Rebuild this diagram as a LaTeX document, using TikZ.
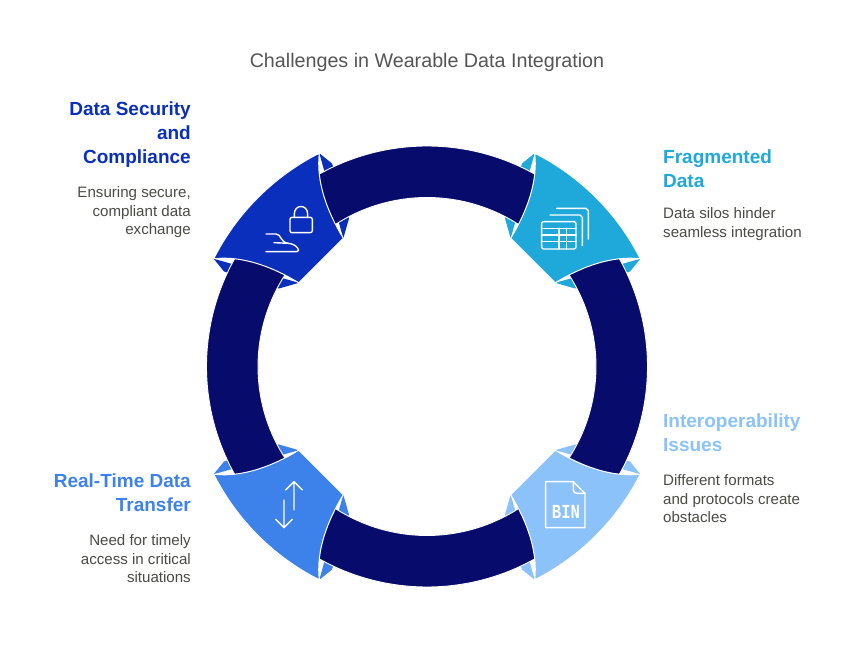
\documentclass[tikz,border=0pt]{standalone}
\usepackage{fontspec}
\setmainfont{Liberation Sans}
\newfontfamily\monoicon{Liberation Mono}
\definecolor{navy}{HTML}{070B6C}
\definecolor{secblue}{HTML}{0A2FBC}
\definecolor{fragblue}{HTML}{1FA9DA}
\definecolor{interblue}{HTML}{8BC2FA}
\definecolor{realblue}{HTML}{3D82EA}
\definecolor{titlegrey}{HTML}{555555}
\definecolor{bodygrey}{HTML}{4A4C44}
\tikzset{
  band/.style={fill=navy,draw=white,line width=0.9pt},
  wing/.style={draw=none},
  piece/.style={draw=white,line width=1pt,line join=round},
  icon/.style={draw=white,line width=1.4pt,line cap=round,line join=round},
  head/.style={font=\fontsize{19}{24}\selectfont\bfseries,inner sep=0pt},
  bodytext/.style={font=\fontsize{15.1}{18.5}\selectfont,text=bodygrey,inner sep=0pt},
}
\newcommand{\wingpair}[3]{%
  \begin{scope}[xscale=#1,yscale=#2]
    \fill[wing,fill=#3] (-107.7,213.3) -- (-95,203) -- (-78,148) -- (-83.7,128.2) -- cycle;
    \fill[wing,fill=#3] (-213.3,107.7) -- (-203,95) -- (-148,78) -- (-128.2,83.7) -- cycle;
  \end{scope}}
\newcommand{\cornerpiece}[3]{%
  \begin{scope}[xscale=#1,yscale=#2]
    \fill[piece,fill=#3] (-107.7,213.3) arc[start angle=116.8,end angle=153.2,radius=239pt]
      .. controls (-185,111) and (-155,100) .. (-128.2,83.7)
      -- (-83.7,128.2)
      .. controls (-100,155) and (-111,185) .. cycle;
  \end{scope}}
\newcommand{\ringband}[1]{%
  \fill[band] (#1+35:220.5pt) arc[start angle=#1+35,end angle=#1-35,radius=220.5pt]
    -- (#1-35:169pt) arc[start angle=#1-35,end angle=#1+35,radius=169pt] -- cycle;}
\begin{document}
\begin{tikzpicture}[x=1pt,y=1pt]
\useasboundingbox (-427,-296.5) rectangle (427,366.5);
\fill[white] (-427,-296.5) rectangle (427,366.5);
\wingpair{1}{1}{secblue}
\wingpair{-1}{1}{fragblue}
\wingpair{-1}{-1}{interblue}
\wingpair{1}{-1}{realblue}
\ringband{90}
\ringband{180}
\ringband{270}
\ringband{360}
\cornerpiece{1}{1}{secblue}
\cornerpiece{-1}{1}{fragblue}
\cornerpiece{-1}{-1}{interblue}
\cornerpiece{1}{-1}{realblue}
% lock and hand
\begin{scope}[shift={(200-427,366.5-140)},x=0.3333pt,y=-0.3333pt]
  \draw[icon,rounded corners=2pt] (270,232) rectangle (337,278);
  \draw[icon] (283,232) -- (283,222) .. controls (283,192) and (323,192) .. (323,222) -- (323,232);
  \draw[icon] (198,282) -- (228,282) .. controls (245,282) and (240,308) .. (265,310)
     .. controls (290,312) and (305,335) .. (290,335) -- (198,335);
  \draw[icon] (222,308) -- (265,310);
\end{scope}
% table
\begin{scope}[shift={(495-427,366.5-140)},x=0.3333pt,y=-0.3333pt]
  \draw[icon,rounded corners=2pt] (140,245) rectangle (243,327);
  \draw[icon] (140,265) -- (243,265) (140,285) -- (243,285) (140,305) -- (243,305);
  \draw[icon] (192,265) -- (192,327) (215,265) -- (215,327);
  \draw[icon] (165,225) -- (255,225) -- (262,232) -- (262,317);
  \draw[icon] (185,205) -- (273,205) -- (280,212) -- (280,297);
\end{scope}
% file
\begin{scope}[shift={(495-427,366.5-435)},x=0.3333pt,y=-0.3333pt]
  \draw[icon] (152,140) -- (235,140) -- (270,175) -- (270,278) -- (152,278) -- cycle;
  \draw[icon] (235,140) -- (235,165) .. controls (235,172) and (240,175) .. (247,175) -- (270,175);
  \node[text=white,font=\monoicon\fontsize{20}{20}\selectfont\bfseries,xscale=0.78,inner sep=0pt] (binlabel) at (213,231) {BIN};
\end{scope}
% arrows
\begin{scope}[shift={(200-427,366.5-435)},x=0.3333pt,y=-0.3333pt]
  \draw[icon] (282,225) -- (282,142) (257,165) -- (282,140) -- (307,165);
  \draw[icon] (252,195) -- (252,278) (227,253) -- (252,278) -- (277,253);
\end{scope}
% text, in picture pixels
\begin{scope}[shift={(-427,366.5)},y=-1pt]
\node[font=\fontsize{19.7}{24}\selectfont,text=titlegrey,inner sep=0pt] (title) at (427,62.5) {Challenges in Wearable Data Integration};
\node[head,text=secblue,anchor=north east,align=right] (sechead) at (191,102) {Data Security\\and\\Compliance};
\node[bodytext,anchor=north east,align=right] (secbody) at (191,186.5) {Ensuring secure,\\compliant data\\exchange};
\node[head,text=fragblue,anchor=north west,align=left] (fraghead) at (663,150) {Fragmented\\Data};
\node[bodytext,anchor=north west,align=left] (fragbody) at (663,207.5) {Data silos hinder\\seamless integration};
\node[head,text=interblue,anchor=north west,align=left] (interhead) at (663,414) {Interoperability\\Issues};
\node[bodytext,anchor=north west,align=left] (interbody) at (663,474.5) {Different formats\\and protocols create\\obstacles};
\node[head,text=realblue,anchor=north east,align=right] (realhead) at (191,474) {Real-Time Data\\Transfer};
\node[bodytext,anchor=north east,align=right] (realbody) at (191,534.5) {Need for timely\\access in critical\\situations};
\end{scope}
\end{tikzpicture}
\end{document}
